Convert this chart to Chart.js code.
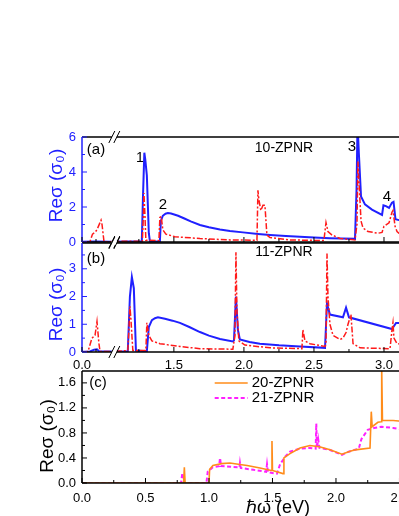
<!DOCTYPE html>
<html>
<head>
<meta charset="utf-8">
<script src="https://cdn.jsdelivr.net/npm/chart.js@4.4.1/dist/chart.umd.min.js"></script>
<style>
html, body { margin: 0; padding: 0; background: #fff; width: 399px; height: 516px; overflow: hidden; position: relative; }
canvas { position: absolute; left: 0; top: 0; }
</style>
</head>
<body>
<canvas id="panelA" width="480" height="516"></canvas>
<canvas id="panelB" width="480" height="516"></canvas>
<canvas id="panelC" width="480" height="516"></canvas>
<script>
// ---- data (photon energy in eV, Re sigma in units of sigma0) ----

// (a) 10-ZPNR
const blueA_ev = [0, 0.1, 0.2, 1.064, 1.271, 1.279, 1.289, 1.296, 1.307, 1.321, 1.329, 1.400, 1.407, 1.421, 1.440, 1.457, 1.480, 1.530, 1.579, 1.620, 1.686, 1.750, 1.829, 1.900, 1.993, 2.100, 2.186, 2.300, 2.400, 2.500, 2.614, 2.700, 2.793, 2.804, 2.811, 2.821, 2.836, 2.864, 2.914, 2.986, 2.996, 3.014, 3.036, 3.057, 3.068, 3.082, 3.107, 3.2, 3.35];
const blueA_re = [0.02, 0.03, 0.02, 0.02, 0.04, 2.5, 5.1, 4.7, 3.8, 0.5, 0.03, 0.03, 1.2, 1.5, 1.62, 1.65, 1.63, 1.5, 1.33, 1.18, 0.97, 0.84, 0.72, 0.63, 0.55, 0.46, 0.4, 0.34, 0.3, 0.26, 0.22, 0.2, 0.18, 3.0, 6.8, 5.0, 2.6, 2.15, 1.85, 1.55, 2.1, 2.05, 1.95, 2.25, 2.3, 1.3, 1.25, 1.15, 1.05];
const redA_ev = [0, 0.057, 0.075, 0.093, 0.107, 0.136, 0.143, 0.157, 0.2, 1.064, 1.275, 1.282, 1.286, 1.293, 1.300, 1.393, 1.400, 1.410, 1.421, 1.443, 1.507, 1.686, 1.900, 2.093, 2.100, 2.107, 2.121, 2.136, 2.150, 2.164, 2.186, 2.329, 2.564, 2.571, 2.586, 2.600, 2.629, 2.686, 2.793, 2.807, 2.814, 2.821, 2.836, 2.850, 2.886, 2.957, 2.986, 3.000, 3.036, 3.057, 3.064, 3.079, 3.093, 3.107, 3.3];
const redA_re = [0, 0.02, 0.45, 0.55, 0.7, 1.25, 1.0, 0.02, 0.02, 0.03, 0.05, 1.5, 2.8, 1.6, 0.1, 0.08, 1.4, 1.45, 0.7, 0.45, 0.3, 0.2, 0.12, 0.1, 2.95, 2.4, 1.8, 2.1, 2.1, 0.4, 0.25, 0.12, 0.08, 0.1, 1.1, 0.6, 0.4, 0.2, 0.12, 1.0, 4.6, 3.5, 1.2, 0.8, 0.6, 0.5, 0.55, 0.9, 1.1, 1.7, 1.8, 0.9, 0.6, 0.5, 0.4];

// (b) 11-ZPNR
const blueB_ev = [0, 0.057, 0.086, 0.107, 0.121, 0.2, 1.064, 1.171, 1.186, 1.200, 1.214, 1.229, 1.307, 1.321, 1.343, 1.365, 1.386, 1.436, 1.490, 1.543, 1.610, 1.686, 1.750, 1.829, 1.921, 1.929, 1.943, 1.957, 1.971, 2.040, 2.114, 2.250, 2.400, 2.579, 2.593, 2.614, 2.707, 2.729, 2.750, 3.057, 3.086, 3.107, 3.3];
const blueB_re = [0.01, 0.02, 0.08, 0.1, 0.03, 0.02, 0.02, 0.03, 2.0, 2.7, 2.3, 0.05, 0.03, 0.9, 1.15, 1.22, 1.25, 1.2, 1.13, 1.05, 0.9, 0.72, 0.59, 0.47, 0.38, 0.42, 2.0, 0.8, 0.45, 0.36, 0.3, 0.24, 0.2, 0.15, 1.75, 1.35, 1.25, 1.6, 1.25, 0.83, 1.05, 1.05, 1.0];
const redB_ev = [0, 0.043, 0.071, 0.093, 0.107, 0.121, 0.129, 0.2, 1.064, 1.171, 1.179, 1.186, 1.193, 1.207, 1.300, 1.307, 1.321, 1.343, 1.400, 1.543, 1.686, 1.921, 1.936, 1.943, 1.950, 1.964, 2.007, 2.186, 2.414, 2.421, 2.436, 2.471, 2.579, 2.586, 2.593, 2.600, 2.614, 2.636, 2.686, 2.707, 2.729, 2.743, 2.764, 2.779, 2.829, 3.043, 3.057, 3.064, 3.071, 3.093, 3.3];
const redB_re = [0, 0.02, 0.5, 0.6, 1.1, 0.3, 0.02, 0.02, 0.02, 0.05, 0.8, 1.65, 1.2, 0.05, 0.05, 1.05, 0.6, 0.4, 0.3, 0.2, 0.12, 0.1, 0.6, 3.6, 1.5, 0.4, 0.25, 0.15, 0.12, 0.8, 0.4, 0.3, 0.2, 0.3, 3.55, 2.0, 1.0, 0.6, 0.45, 0.5, 0.7, 1.0, 1.35, 0.3, 0.15, 0.12, 0.8, 1.05, 0.5, 0.3, 0.2];

// (c) 20-ZPNR and 21-ZPNR
const orangeC_ev = [0, 0.800, 0.806, 0.812, 1.000, 1.005, 1.031, 1.100, 1.165, 1.230, 1.300, 1.402, 1.490, 1.496, 1.500, 1.583, 1.590, 1.638, 1.717, 1.795, 1.870, 1.953, 2.047, 2.100, 2.150, 2.268, 2.278, 2.285, 2.330, 2.355, 2.360, 2.366, 2.450, 2.600, 3.0];
const orangeC_re = [0, 0, 0.25, 0, 0, 0.22, 0.28, 0.31, 0.32, 0.3, 0.28, 0.24, 0.2, 0.67, 0.2, 0.15, 0.4, 0.47, 0.56, 0.6, 0.58, 0.53, 0.46, 0.5, 0.53, 0.56, 1.14, 0.9, 0.97, 0.98, 1.85, 1.0, 1.0, 0.97, 0.9];
const magentaC_ev = [0, 0.780, 0.790, 0.800, 0.805, 0.980, 0.990, 1.030, 1.080, 1.087, 1.095, 1.170, 1.240, 1.244, 1.250, 1.350, 1.450, 1.457, 1.465, 1.535, 1.560, 1.600, 1.638, 1.717, 1.795, 1.840, 1.845, 1.850, 1.860, 1.870, 1.950, 2.047, 2.100, 2.180, 2.200, 2.250, 2.300, 2.360, 2.450, 2.600, 3.0];
const magentaC_re = [0, 0, 0.16, 0.05, 0, 0, 0.18, 0.25, 0.27, 0.4, 0.27, 0.26, 0.25, 0.32, 0.24, 0.21, 0.18, 0.3, 0.17, 0.15, 0.3, 0.42, 0.5, 0.55, 0.56, 0.55, 0.95, 0.56, 0.7, 0.56, 0.53, 0.45, 0.5, 0.55, 0.7, 0.85, 0.88, 0.9, 0.88, 0.83, 0.75];

// axis ticks (eV / sigma0)
const xMajorAB = [0, 1.5, 2.0, 2.5, 3.0, 3.5];
const xMinorAB = [0.1, 1.25, 1.75, 2.25, 2.75, 3.25];
const yMajorA = [0, 2, 4, 6], yMinorA = [1, 3, 5];
const yMajorB = [0, 1, 2, 3], yMinorB = [0.5, 1.5, 2.5, 3.5];
const xMajorC = [0, 0.5, 1.0, 1.5, 2.0, 2.5, 3.0];
const xMinorC = [0.25, 0.75, 1.25, 1.75, 2.25, 2.75];
const yMajorC = [0, 0.4, 0.8, 1.2, 1.6], yMinorC = [0.2, 0.6, 1.0, 1.4];

// broken x axis in (a) and (b): the range between these energies is cut out
const BRK_LO = 0.22, BRK_HI = 1.064;
const toAxis = e => e <= BRK_LO ? e : e - (BRK_HI - BRK_LO);
const same = e => e;

const FONT = "'Liberation Sans', Arial, sans-serif";
const BLUE = '#2020ff';
const RED = '#ff1a1a';

function pts(ev, re, map) {
    return ev.map((e, i) => ({x: map(e), y: re[i]}));
}

function tickList(major, minor, map, fmt) {
    return major.map(v => ({value: map(v), lbl: fmt(v)}))
        .concat(minor.map(v => ({value: map(v), lbl: ''})))
        .sort((a, b) => a.value - b.value);
}

// frame, inward ticks, axis break, labels, legend
const decor = {
    id: 'decor',
    afterDraw(chart, args, o) {
        const ctx = chart.ctx, a = chart.chartArea;
        const xs = chart.scales.x, ys = chart.scales.y;
        ctx.save();
        ctx.lineWidth = 1.5;
        ctx.strokeStyle = '#000';
        ctx.beginPath();
        ctx.moveTo(a.left, a.top); ctx.lineTo(a.right, a.top);
        ctx.lineTo(a.right, a.bottom); ctx.lineTo(a.left, a.bottom);
        ctx.stroke();
        ctx.strokeStyle = o.axisColor;
        ctx.beginPath();
        ctx.moveTo(a.left, a.top); ctx.lineTo(a.left, a.bottom);
        ctx.stroke();

        ctx.lineWidth = 1;
        ctx.strokeStyle = '#000';
        o.xMajor.forEach(v => {
            const p = xs.getPixelForValue(o.xMap(v));
            ctx.beginPath(); ctx.moveTo(p, a.bottom); ctx.lineTo(p, a.bottom - 5); ctx.stroke();
        });
        o.xMinor.forEach(v => {
            const p = xs.getPixelForValue(o.xMap(v));
            ctx.beginPath(); ctx.moveTo(p, a.bottom); ctx.lineTo(p, a.bottom - 3); ctx.stroke();
        });
        ctx.strokeStyle = o.axisColor;
        o.yMajor.forEach(v => {
            const p = ys.getPixelForValue(v);
            ctx.beginPath(); ctx.moveTo(a.left, p); ctx.lineTo(a.left + 5, p); ctx.stroke();
        });
        o.yMinor.forEach(v => {
            const p = ys.getPixelForValue(v);
            ctx.beginPath(); ctx.moveTo(a.left, p); ctx.lineTo(a.left + 3, p); ctx.stroke();
        });

        if (o.broken) {
            const bx = xs.getPixelForValue(BRK_LO);
            [a.top, a.bottom].forEach(yy => {
                ctx.fillStyle = '#fff';
                ctx.fillRect(bx - 1, yy - 2, 5, 4);
                ctx.strokeStyle = '#000';
                ctx.lineWidth = 1;
                ctx.beginPath();
                ctx.moveTo(bx - 4, yy + 6); ctx.lineTo(bx + 2, yy - 6);
                ctx.moveTo(bx + 1, yy + 6); ctx.lineTo(bx + 7, yy - 6);
                ctx.stroke();
            });
        }

        ctx.fillStyle = '#000';
        ctx.textAlign = 'center';
        ctx.textBaseline = 'middle';
        (o.notes || []).forEach(n => {
            ctx.font = n.s + 'px ' + FONT;
            ctx.fillText(n.t, xs.getPixelForValue(o.xMap(n.e)), ys.getPixelForValue(n.v));
        });

        // y title
        ctx.save();
        ctx.translate(a.left - o.yTitleDx, (a.top + a.bottom) / 2 + o.yTitleDy);
        ctx.rotate(-Math.PI / 2);
        ctx.fillStyle = o.axisColor;
        ctx.font = '19px ' + FONT;
        ctx.fillText('Reσ (σ₀)', 0, 0);
        ctx.restore();

        if (o.xTitle) {
            ctx.font = '18px ' + FONT;
            ctx.fillStyle = '#000';
            ctx.fillText(o.xTitle, o.xTitleX, a.bottom + 25);
        }

        if (o.legend) {
            chart.data.datasets.forEach((d, i) => {
                const ly = a.top + 12 + i * 15;
                const lx = xs.getPixelForValue(o.legendAt);
                ctx.strokeStyle = d.borderColor;
                ctx.lineWidth = d.borderWidth;
                ctx.setLineDash(d.borderDash || []);
                ctx.beginPath(); ctx.moveTo(lx, ly); ctx.lineTo(lx + 33, ly); ctx.stroke();
                ctx.setLineDash([]);
                ctx.fillStyle = '#000';
                ctx.textAlign = 'left';
                ctx.font = '15px ' + FONT;
                ctx.fillText(d.label, lx + 37, ly);
            });
        }
        ctx.restore();
    }
};

function panel(id, datasets, cfg) {
    const xTicks = tickList(cfg.xMajor, cfg.xMinor, cfg.xMap, v => v.toFixed(1));
    const yTicks = tickList(cfg.yMajor, cfg.yMinor, same, cfg.yFmt);
    return new Chart(document.getElementById(id), {
        type: 'line',
        data: {datasets: datasets},
        plugins: [decor],
        options: {
            responsive: false,
            animation: false,
            events: [],
            layout: {padding: {top: cfg.top, bottom: 516 - cfg.bottom - cfg.xH, left: 0, right: 480 - cfg.right}},
            elements: {point: {radius: 0}, line: {tension: 0}},
            scales: {
                x: {
                    type: 'linear', min: 0, max: cfg.xMax,
                    grid: {display: false, drawTicks: false},
                    border: {display: false},
                    afterBuildTicks: s => { s.ticks = xTicks.map(t => ({...t})); },
                    ticks: {
                        display: cfg.xLabels, autoSkip: false, maxRotation: 0, padding: cfg.xPad,
                        color: '#000', font: {family: FONT, size: 13},
                        callback: (v, i, t) => t[i].lbl
                    },
                    afterFit: s => { s.height = cfg.xH; }
                },
                y: {
                    min: 0, max: cfg.yMax,
                    grid: {display: false, drawTicks: false},
                    border: {display: false},
                    afterBuildTicks: s => { s.ticks = yTicks.map(t => ({...t})); },
                    ticks: {
                        autoSkip: false, padding: 6,
                        color: cfg.axisColor, font: {family: FONT, size: 13},
                        callback: (v, i, t) => t[i].lbl
                    },
                    afterFit: s => { s.width = 82; }
                }
            },
            plugins: {
                legend: {display: false},
                tooltip: {enabled: false},
                decor: {
                    axisColor: cfg.axisColor, broken: cfg.broken,
                    xMap: cfg.xMap, xMajor: cfg.xMajor, xMinor: cfg.xMinor,
                    yMajor: cfg.yMajor, yMinor: cfg.yMinor,
                    notes: cfg.notes, yTitleDx: cfg.yTitleDx, yTitleDy: cfg.yTitleDy,
                    xTitle: cfg.xTitle, xTitleX: cfg.xTitleX,
                    legend: cfg.legend, legendAt: cfg.legendAt
                }
            }
        }
    });
}

function blueSet(ev, re) {
    return {label: 'blue', data: pts(ev, re, toAxis), borderColor: BLUE, borderWidth: 2, order: 2};
}
function redSet(ev, re) {
    return {label: 'red', data: pts(ev, re, toAxis), borderColor: RED, borderWidth: 1.5, borderDash: [6, 2, 2, 2], order: 1};
}

panel('panelA', [blueSet(blueA_ev, blueA_re), redSet(redA_ev, redA_re)], {
    top: 137, bottom: 242, right: 463, xH: 0, xPad: 6, xMax: toAxis(3.564), yMax: 6,
    xMap: toAxis, xMajor: xMajorAB, xMinor: xMinorAB, yMajor: yMajorA, yMinor: yMinorA,
    yFmt: v => String(v), xLabels: false, axisColor: BLUE, broken: true,
    yTitleDx: 25, yTitleDy: -4,
    notes: [
        {t: '(a)', e: 0.1, v: 5.26, s: 15},
        {t: '10-ZPNR', e: 2.286, v: 5.37, s: 14},
        {t: '1', e: 1.257, v: 4.8, s: 14},
        {t: '2', e: 1.421, v: 2.11, s: 15},
        {t: '3', e: 2.771, v: 5.43, s: 15},
        {t: '4', e: 3.021, v: 2.57, s: 15}
    ]
});

panel('panelB', [blueSet(blueB_ev, blueB_re), redSet(redB_ev, redB_re)], {
    top: 243, bottom: 352, right: 463, xH: 20, xPad: 6, xMax: toAxis(3.564), yMax: 3.93,
    xMap: toAxis, xMajor: xMajorAB, xMinor: xMinorAB, yMajor: yMajorB, yMinor: yMinorB,
    yFmt: v => String(v), xLabels: true, axisColor: BLUE, broken: true,
    yTitleDx: 25, yTitleDy: 7,
    notes: [
        {t: '(b)', e: 0.1, v: 3.36, s: 15},
        {t: '11-ZPNR', e: 2.286, v: 3.61, s: 14}
    ]
});

panel('panelC', [
    {label: '20-ZPNR', data: pts(orangeC_ev, orangeC_re, same), borderColor: '#ff8c1a', borderWidth: 1.6, order: 1},
    {label: '21-ZPNR', data: pts(magentaC_ev, magentaC_re, same), borderColor: '#ff20ff', borderWidth: 2, borderDash: [4, 2.5], order: 2}
], {
    top: 371, bottom: 483, right: 463, xH: 20, xPad: 8, xMax: 3.0, yMax: 1.79,
    xMap: same, xMajor: xMajorC, xMinor: xMinorC, yMajor: yMajorC, yMinor: yMinorC,
    yFmt: v => v.toFixed(1), xLabels: true, axisColor: '#000', broken: false,
    yTitleDx: 34, yTitleDy: 9,
    xTitle: 'ℏω (eV)', xTitleX: 278,
    legend: true, legendAt: 1.045,
    notes: [{t: '(c)', e: 0.126, v: 1.6, s: 15}]
});
</script>
</body>
</html>
